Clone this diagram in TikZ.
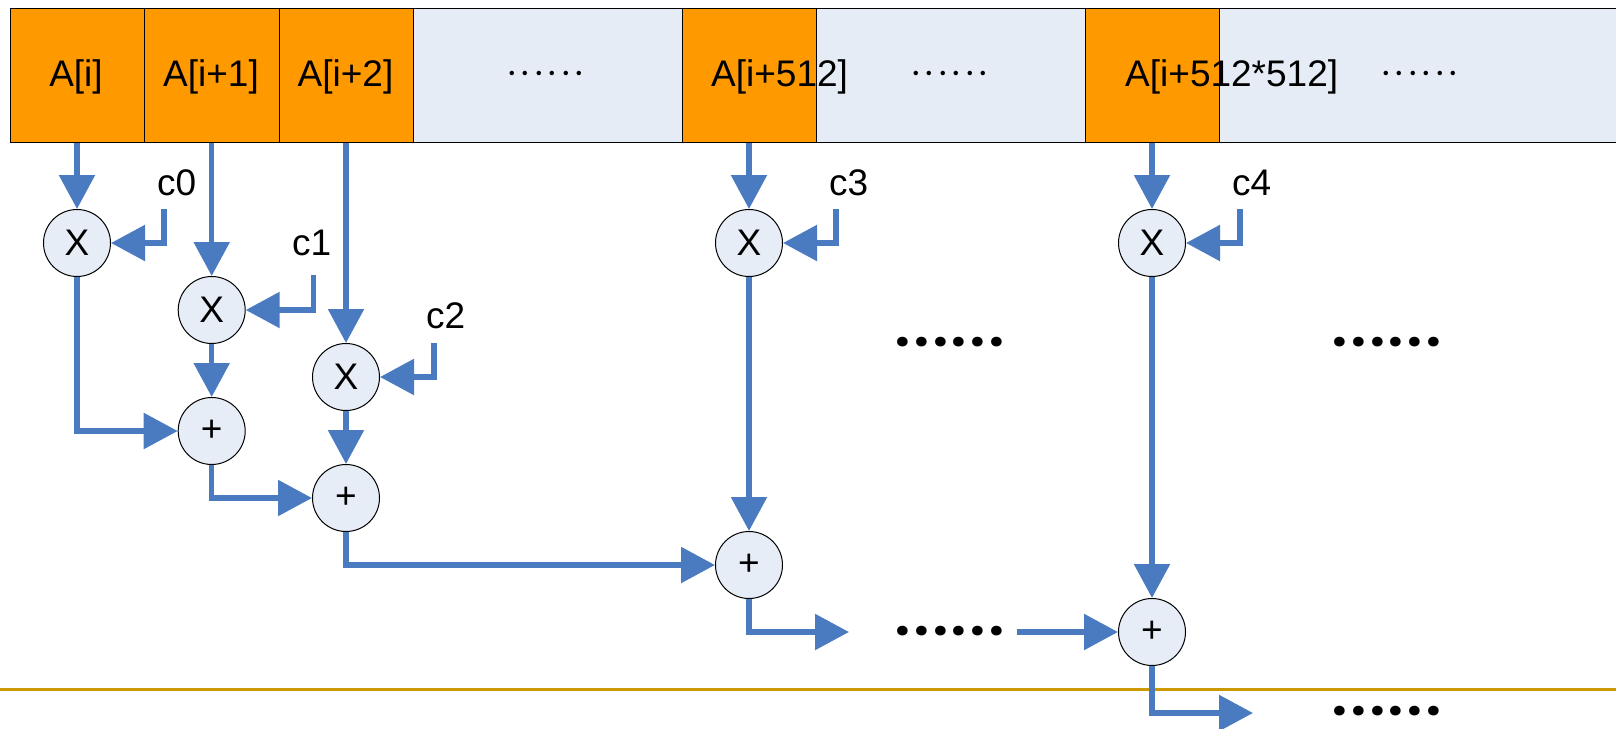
\documentclass[tikz,border=0pt]{standalone}
\usepackage{fontspec}
\setmainfont{Liberation Sans}
\newfontfamily\dotfont{Poppins}
\usetikzlibrary{arrows.meta}
\definecolor{orangec}{HTML}{FF9900}
\definecolor{cellbg}{HTML}{E6ECF6}
\definecolor{circbg}{HTML}{E6EDF7}
\definecolor{flowblue}{HTML}{4A7BC0}
\definecolor{goldline}{HTML}{CC9900}
\newcommand\sixdots[1]{\makebox[#1]{.}\makebox[#1]{.}\makebox[#1]{.}\makebox[#1]{.}\makebox[#1]{.}\makebox[#1]{.}}
\begin{document}
\begin{tikzpicture}[x=1pt,y=-1pt,
  cellbox/.style={draw=black, line width=1pt, inner sep=0pt, anchor=north west, minimum height=134pt},
  lbl/.style={inner sep=0pt, font=\fontsize{37}{44}\selectfont},
  opnode/.style={circle, draw=black, line width=1pt, fill=circbg, minimum size=67pt, inner sep=0pt, font=\fontsize{37}{44}\selectfont},
  flow/.style={draw=flowblue, line width=5.5pt, -{Triangle[length=34pt,width=35pt]}},
  bardots/.style={inner sep=0pt, font=\dotfont\fontsize{36}{44}\selectfont},
  bigdots/.style={inner sep=0pt, font=\dotfont\fontsize{52}{60}\selectfont\bfseries}
]
\useasboundingbox (0,0) rectangle (1616,728);
% memory bar
\node[cellbox, fill=orangec, minimum width=134.3pt] (ai)   at (10,8) {};
\node[cellbox, fill=orangec, minimum width=134.4pt] (ai1)  at (144.3,8) {};
\node[cellbox, fill=orangec, minimum width=134.6pt] (ai2)  at (278.7,8) {};
\node[cellbox, fill=cellbg,  minimum width=269pt]   (gap1) at (413.3,8) {};
\node[cellbox, fill=orangec, minimum width=134pt]   (a512) at (682.3,8) {};
\node[cellbox, fill=cellbg,  minimum width=268.7pt] (gap2) at (816.3,8) {};
\node[cellbox, fill=orangec, minimum width=134.3pt] (aSq)  at (1085,8) {};
\node[cellbox, fill=cellbg,  minimum width=410pt]   (gap3) at (1219.3,8) {};
% bar texts
\node[lbl, anchor=base] (t0) at (76,86) {A[i]};
\node[lbl, anchor=base] (t1) at (211,86) {A[i+1]};
\node[lbl, anchor=base] (t2) at (345.5,86) {A[i+2]};
\node[bardots] (g1) at (546,73) {\sixdots{13.5pt}};
\node[lbl, anchor=base west] (t5) at (711,86) {A[i+512]};
\node[bardots] (g2) at (950,73) {\sixdots{13.5pt}};
\node[lbl, anchor=base west] (t7) at (1125,86) {A[i+512*512]};
\node[bardots] (g3) at (1420,73) {\sixdots{13.5pt}};
% separator line
\draw[goldline, line width=3.5pt] (0,689.3) -- (1616,689.3);
% operators
\node[opnode] (X1) at (77,243) {X};
\node[opnode] (X2) at (211.7,310) {X};
\node[opnode] (X3) at (346,377) {X};
\node[opnode] (X4) at (749,243) {X};
\node[opnode] (X5) at (1152,243) {X};
\node[opnode] (P1) at (211.7,431) {+};
\node[opnode] (P2) at (346,498) {+};
\node[opnode] (P3) at (749,565) {+};
\node[opnode] (P4) at (1152,632) {+};
% coefficient labels
\node[lbl, anchor=base west] (l0) at (157,195) {c0};
\node[lbl, anchor=base west] (l1) at (292,255) {c1};
\node[lbl, anchor=base west] (l2) at (426,328) {c2};
\node[lbl, anchor=base west] (l3) at (829,195) {c3};
\node[lbl, anchor=base west] (l4) at (1232,195) {c4};
\coordinate (k0) at (164,209);
\coordinate (k1) at (313.3,275);
\coordinate (k2) at (434,343);
\coordinate (k3) at (836,209);
\coordinate (k4) at (1240,209);
% dots
\node[bigdots] (m1) at (950,342) {\sixdots{18.7pt}};
\node[bigdots] (m2) at (1387,342) {\sixdots{18.7pt}};
\node[bigdots] (m3) at (950,631) {\sixdots{18.7pt}};
\node[bigdots] (m4) at (1387,711) {\sixdots{18.7pt}};
\coordinate (o3) at (849,632);
\coordinate (i4) at (1017,632);
\coordinate (o4) at (1253,713);
% connectors
\draw[flow] (X1.north |- ai.south) -- (X1.north);
\draw[flow] (X2.north |- ai1.south) -- (X2.north);
\draw[flow] (X3.north |- ai2.south) -- (X3.north);
\draw[flow] (X4.north |- a512.south) -- (X4.north);
\draw[flow] (X5.north |- aSq.south) -- (X5.north);
\draw[flow] (k0) |- (X1.east);
\draw[flow] (k1) |- (X2.east);
\draw[flow] (k2) |- (X3.east);
\draw[flow] (k3) |- (X4.east);
\draw[flow] (k4) |- (X5.east);
\draw[flow] (X1.south) |- (P1.west);
\draw[flow] (X2.south) -- (P1.north);
\draw[flow] (X3.south) -- (P2.north);
\draw[flow] (P1.south) |- (P2.west);
\draw[flow] (P2.south) |- (P3.west);
\draw[flow] (X4.south) -- (P3.north);
\draw[flow] (X5.south) -- (P4.north);
\draw[flow] (P3.south) |- (o3);
\draw[flow] (i4) -- (P4.west);
\draw[flow] (P4.south) |- (o4);
\end{tikzpicture}
\end{document}
